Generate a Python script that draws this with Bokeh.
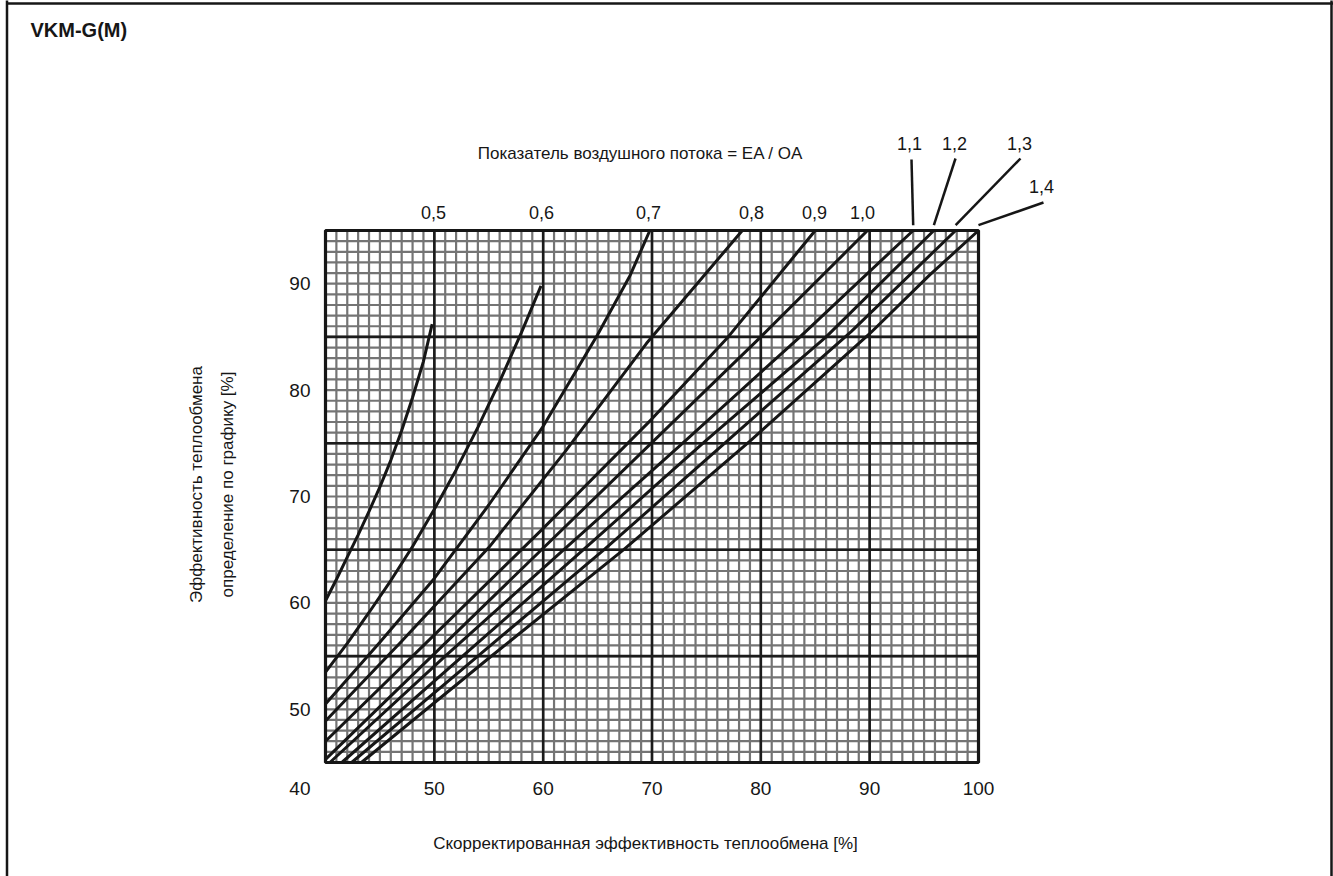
import numpy as np
from bokeh.plotting import figure
from bokeh.models import Range1d
from bokeh.core.properties import value
from bokeh.embed import file_html
from bokeh.resources import INLINE

# ---------------- data ----------------
X_TICKS = [50, 60, 70, 80, 90, 100]
Y_TICKS = [50, 60, 70, 80, 90]
X_LIM = (40, 100)
Y_LIM = (45, 95)
X_MAJOR_GRID = [50, 60, 70, 80, 90]
Y_MAJOR_GRID = [55, 65, 75, 85]
X_MINOR_GRID = list(range(41, 100))
Y_MINOR_GRID = list(range(46, 95))

ratio_labels = ["0,5", "0,6", "0,7", "0,8", "0,9", "1,0", "1,1", "1,2", "1,3", "1,4"]

c05_x = [40, 41, 42, 43, 44, 45, 46, 47, 48, 49, 49.8]
c05_y = [60.2, 62.2, 64.3, 66.4, 68.6, 70.9, 73.4, 76.2, 79.3, 82.7, 86.2]

c06_x = [40, 42, 44, 46, 48, 50, 52, 54, 56, 58, 59.8]
c06_y = [53.5, 56.2, 59.1, 62.1, 65.3, 68.8, 72.5, 76.5, 80.8, 85.4, 89.8]

c07_x = [40, 45, 50, 55, 60, 65, 68, 69.8]
c07_y = [50.5, 56.3, 62.3, 69.2, 76.6, 85.2, 90.8, 95]

c08_x = [40, 47, 55, 62, 69.5, 78.3]
c08_y = [48.9, 56.4, 65.2, 74.2, 84.4, 95]

c09_x = [40, 50, 60, 70, 77, 85]
c09_y = [47.0, 57.0, 67.0, 77.3, 85.0, 95]

c10_x = [40, 80, 89.8]
c10_y = [45.3, 85, 95]

c11_x = [40.4, 51, 61.9, 72.8, 83.6, 94.0]
c11_y = [45, 55, 65, 75, 85, 95]

c12_x = [41.5, 52.6, 63.7, 75.0, 86.0, 95.9]
c12_y = [45, 55, 65, 75.3, 85, 95]

c13_x = [42.4, 54.0, 65.6, 77.0, 88.3, 97.9]
c13_y = [45, 55, 65, 75.3, 85.5, 95]

c14_x = [43.3, 55.0, 67.4, 79.0, 90.0, 95.5, 100]
c14_y = [45, 54.8, 65, 75.2, 85.3, 90.8, 95]

curves_x = [c05_x, c06_x, c07_x, c08_x, c09_x, c10_x, c11_x, c12_x, c13_x, c14_x]
curves_y = [c05_y, c06_y, c07_y, c08_y, c09_y, c10_y, c11_y, c12_y, c13_y, c14_y]

title_text = "VKM-G(M)"
top_text = "Показатель воздушного потока = EA / OA"
x_title = "Скорректированная эффективность теплообмена [%]"
y_title_1 = "Эффективность теплообмена"
y_title_2 = "определение по графику [%]"

# ---------------- layout ----------------
W, H = 1333, 876
PX_L, PX_R, PX_T, PX_B = 325, 978, 230, 762     # grid rectangle on the page
SX = (PX_R - PX_L) / (X_LIM[1] - X_LIM[0])
SY = (PX_B - PX_T) / (Y_LIM[1] - Y_LIM[0])
XS = X_LIM[0] - PX_L / SX
YE = Y_LIM[1] + PX_T / SY

def X(px):
    return XS + px / SX

def Y(py):
    return YE - py / SY

FONT = value("Liberation Sans")
INK = "#161616"

p = figure(width=W, height=H, x_range=Range1d(XS, XS + W / SX), y_range=Range1d(YE - H / SY, YE),
           output_backend="svg", toolbar_location=None,
           x_axis_location=None, y_axis_location=None, min_border=0)
p.outline_line_color = None
p.background_fill_color = "white"
p.border_fill_color = "white"
p.xgrid.visible = False
p.ygrid.visible = False

# page border
p.segment(x0=[X(6.5), X(6.5), X(1331)], y0=[Y(-5), Y(3), Y(-5)],
          x1=[X(6.5), X(1340), X(1331)], y1=[Y(890), Y(3), Y(890)],
          line_color=INK, line_width=2.5)

# millimetre grid
n1, n2 = len(X_MINOR_GRID), len(Y_MINOR_GRID)
p.segment(x0=X_MINOR_GRID, y0=[Y_LIM[0]] * n1, x1=X_MINOR_GRID, y1=[Y_LIM[1]] * n1,
          line_color="#747474", line_width=2.2)
p.segment(x0=[X_LIM[0]] * n2, y0=Y_MINOR_GRID, x1=[X_LIM[1]] * n2, y1=Y_MINOR_GRID,
          line_color="#747474", line_width=2.2)
m1, m2 = len(X_MAJOR_GRID), len(Y_MAJOR_GRID)
p.segment(x0=X_MAJOR_GRID, y0=[Y_LIM[0]] * m1, x1=X_MAJOR_GRID, y1=[Y_LIM[1]] * m1,
          line_color="#1c1c1c", line_width=2.6)
p.segment(x0=[X_LIM[0]] * m2, y0=Y_MAJOR_GRID, x1=[X_LIM[1]] * m2, y1=Y_MAJOR_GRID,
          line_color="#1c1c1c", line_width=2.6)
p.quad(left=[X_LIM[0]], right=[X_LIM[1]], bottom=[Y_LIM[0]], top=[Y_LIM[1]],
       fill_color=None, line_color=INK, line_width=3.2)

# curves
for cx, cy in zip(curves_x, curves_y):
    p.line(cx, cy, line_color=INK, line_width=3)

def txt(xs, ys, texts, size="17px", align="center", baseline="middle", angle=0.0, style="normal"):
    p.text(x=xs, y=ys, text=texts, text_font=FONT, text_font_size=value(size),
           text_align=align, text_baseline=baseline, angle=angle,
           text_font_style=style, text_color=INK)

# tick labels (axis values)
txt(X_TICKS, [Y(788)] * len(X_TICKS), [str(t) for t in X_TICKS], size="19px")
txt([X(310)] * len(Y_TICKS), Y_TICKS, [str(t) for t in Y_TICKS], size="19px", align="right")
txt([X(310)], [Y(788)], [str(X_LIM[0])], size="19px", align="right")

# titles
txt([X(30)], [Y(29)], [title_text], size="20px", align="left", style="bold")
txt([X(640)], [Y(153)], [top_text])
txt([X(645)], [Y(843)], [x_title])
txt([X(196)], [Y(484)], [y_title_1], angle=np.pi / 2)
txt([X(227)], [Y(484)], [y_title_2], angle=np.pi / 2)

# curve labels
low_px = [433, 541, 648, 751, 814, 862]
txt([X(v) for v in low_px], [Y(212)] * 6, ratio_labels[:6], size="18px")
high_px = [(909, 143), (954, 143), (1019, 143), (1041, 186)]
txt([X(a) for a, b in high_px], [Y(b) for a, b in high_px], ratio_labels[6:], size="18px")

# leader lines from labels to the curve ends
lead_start = [(911, 159), (955, 158), (1020, 158), (1043, 202)]
p.segment(x0=[X(a) for a, b in lead_start], y0=[Y(b) for a, b in lead_start],
          x1=[cx[-1] for cx in curves_x[6:]], y1=[cy[-1] + 0.5 for cy in curves_y[6:]],
          line_color=INK, line_width=2.5)

open("out.html", "w").write(file_html(p, INLINE))
